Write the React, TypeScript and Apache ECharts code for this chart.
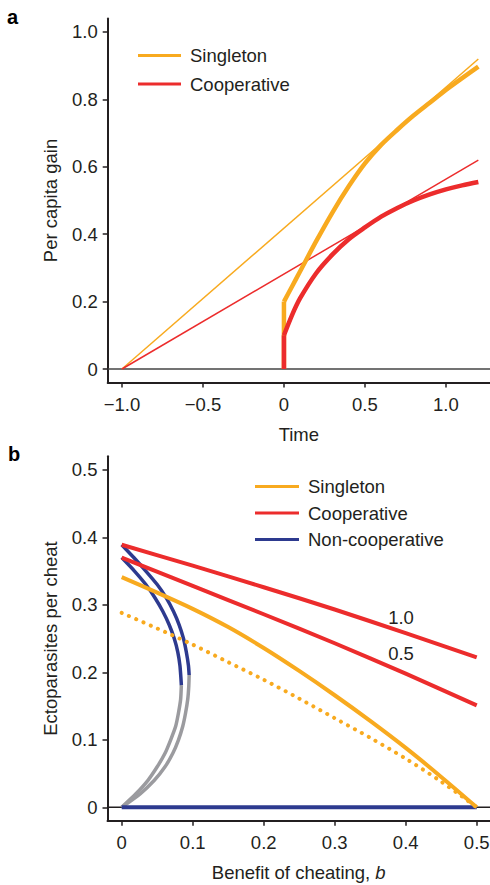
import React, { useEffect, useRef } from "react";
import * as echarts from "echarts";

// ---------- Panel a data ----------
const timeLineX = [-1, 1.2];
const singletonLineY = [0, 0.92];
const coopLineY = [0, 0.62];
const jumpX = [0, 0];
const singletonJumpY = [0, 0.2];
const coopJumpY = [0, 0.1];
const curveTime = [0, 0.05, 0.1, 0.2, 0.3, 0.4, 0.5, 0.6, 0.7, 0.8, 0.9, 1.0, 1.1, 1.2];
const singletonCurveY = [0.2, 0.245, 0.29, 0.38, 0.465, 0.542, 0.61, 0.665, 0.71, 0.752, 0.79, 0.828, 0.863, 0.897];
const coopCurveY = [0.1, 0.16, 0.21, 0.285, 0.34, 0.385, 0.42, 0.452, 0.478, 0.5, 0.518, 0.533, 0.545, 0.555];
const topXTicks = [-1, -0.5, 0, 0.5, 1.0];
const topXLabels = ["\u22121.0", "\u22120.5", "0", "0.5", "1.0"];
const topYTicks = [0, 0.2, 0.4, 0.6, 0.8, 1.0];
const topYLabels = ["0", "0.2", "0.4", "0.6", "0.8", "1.0"];

// ---------- Panel b data ----------
const benefit = [0, 0.05, 0.1, 0.15, 0.2, 0.25, 0.3, 0.35, 0.4, 0.45, 0.5];
const singletonB = [0.341, 0.318, 0.294, 0.267, 0.236, 0.202, 0.166, 0.128, 0.088, 0.045, 0];
const singletonDottedB = [0.288, 0.265, 0.241, 0.215, 0.189, 0.161, 0.132, 0.103, 0.072, 0.038, 0];
const benefitCoarse = [0, 0.1, 0.2, 0.3, 0.4, 0.5];
const coop10 = [0.389, 0.358, 0.326, 0.293, 0.258, 0.222];
const coop05 = [0.37, 0.328, 0.286, 0.243, 0.198, 0.151];
const outerBlueY = [0.389, 0.37, 0.35, 0.33, 0.31, 0.29, 0.27, 0.25, 0.23, 0.21, 0.196];
const outerBlueX = [0, 0.017, 0.034, 0.05, 0.063, 0.073, 0.081, 0.087, 0.091, 0.094, 0.095];
const outerGreyY = [0.196, 0.18, 0.16, 0.14, 0.12, 0.1, 0.08, 0.06, 0.04, 0.02, 0];
const outerGreyX = [0.095, 0.0945, 0.093, 0.09, 0.086, 0.08, 0.072, 0.061, 0.046, 0.026, 0];
const innerBlueY = [0.37, 0.35, 0.33, 0.31, 0.29, 0.27, 0.25, 0.23, 0.21, 0.19, 0.181];
const innerBlueX = [0, 0.018, 0.034, 0.047, 0.058, 0.067, 0.074, 0.079, 0.082, 0.0835, 0.084];
const innerGreyY = [0.181, 0.16, 0.14, 0.12, 0.1, 0.08, 0.06, 0.04, 0.02, 0];
const innerGreyX = [0.084, 0.083, 0.08, 0.076, 0.069, 0.061, 0.05, 0.037, 0.02, 0];
const blueZeroX = [0, 0.5];
const blueZeroY = [0, 0];
const botXTicks = [0, 0.1, 0.2, 0.3, 0.4, 0.5];
const botXLabels = ["0", "0.1", "0.2", "0.3", "0.4", "0.5"];
const botYTicks = [0, 0.1, 0.2, 0.3, 0.4, 0.5];
const botYLabels = ["0", "0.1", "0.2", "0.3", "0.4", "0.5"];

const ORANGE = "#F8AA1F";
const RED = "#EC2C2C";
const BLUE = "#2D3A8F";
const GREY = "#9B9B9F";
const INK = "#231F20";
const FONT = "'Liberation Sans', Arial, Helvetica, sans-serif";

const zip = (xs: number[], ys: number[]) => xs.map((x, i) => [x, ys[i]]);
const lookup = (ticks: number[], labels: string[]) => (v: number) => {
  const i = ticks.findIndex((t) => Math.abs(t - v) < 1e-9);
  return i >= 0 ? labels[i] : "";
};

const txt = { color: INK, fontSize: 18.5, fontFamily: FONT };

function valueAxis(
  grid: number,
  min: number,
  max: number,
  ticks: number[],
  labels: string[],
  name: any,
  nameGap: number,
  isY: boolean,
  rich?: any
) {
  return {
    type: "value",
    gridIndex: grid,
    min,
    max,
    name,
    nameLocation: "middle",
    nameGap,
    nameRotate: isY ? 90 : 0,
    nameTextStyle: { ...txt, rich },
    axisLine: { show: true, onZero: false, lineStyle: { color: INK, width: 2 } },
    axisTick: { show: true, customValues: ticks, length: 5, lineStyle: { color: INK, width: 1.5 } },
    axisLabel: { ...txt, customValues: ticks, margin: isY ? 10 : 12, formatter: lookup(ticks, labels) },
    splitLine: { show: false },
  };
}

function line(name: string, xi: number, data: number[][], color: string, width: number, extra: any = {}) {
  return {
    type: "line",
    name,
    xAxisIndex: xi,
    yAxisIndex: xi,
    data,
    showSymbol: false,
    symbol: "none",
    silent: true,
    itemStyle: { color },
    lineStyle: { color, width, cap: "butt", join: "round", ...(extra.lineStyle || {}) },
    smooth: extra.smooth ?? false,
    z: extra.z ?? 2,
  };
}

export default function App() {
  const ref = useRef<HTMLDivElement>(null);
  useEffect(() => {
    if (!ref.current) return;
    const chart = echarts.init(ref.current, undefined, { renderer: "svg" });
    const option: any = {
      animation: false,
      backgroundColor: "#fff",
      grid: [
        { left: 107.7, right: 0, top: 18.5, height: 364, outerBoundsMode: "none" },
        { left: 107.5, right: 0, top: 456.3, height: 364.5, outerBoundsMode: "none" },
      ],
      xAxis: [
        valueAxis(0, -1.088, 1.272, topXTicks, topXLabels, "Time", 42, false),
        valueAxis(1, -0.02, 0.5187, botXTicks, botXLabels, "Benefit of cheating, {i|b}", 42, false, {
          i: { ...txt, fontStyle: "italic" },
        }),
      ],
      yAxis: [
        valueAxis(0, -0.04, 1.04, topYTicks, topYLabels, "Per capita gain", 48, true),
        valueAxis(1, -0.02, 0.52, botYTicks, botYLabels, "Ectoparasites per cheat", 48, true),
      ],
      legend: [
        {
          data: ["Singleton", "Cooperative"],
          orient: "vertical",
          left: 133,
          top: 41,
          itemWidth: 43,
          itemHeight: 3,
          itemGap: 9.5,
          icon: "rect",
          selectedMode: false,
          textStyle: { ...txt, padding: [0, 0, 0, 4] },
        },
        {
          data: ["Singleton", "Cooperative", "Non-cooperative"],
          orient: "vertical",
          left: 250,
          top: 472,
          itemWidth: 44,
          itemHeight: 3,
          itemGap: 7.5,
          icon: "rect",
          selectedMode: false,
          textStyle: { ...txt, padding: [0, 0, 0, 4] },
        },
      ],
      graphic: [
        { type: "text", left: 7, top: 7, style: { text: "a", font: `bold 20px ${FONT}`, fill: "#000" } },
        { type: "text", left: 8, top: 444, style: { text: "b", font: `bold 20px ${FONT}`, fill: "#000" } },
        { type: "text", x: 401, y: 617, style: { text: "1.0", font: `18.5px ${FONT}`, fill: INK, align: "center", verticalAlign: "middle" } },
        { type: "text", x: 401, y: 653, style: { text: "0.5", font: `18.5px ${FONT}`, fill: INK, align: "center", verticalAlign: "middle" } },
      ],
      series: [
        // panel a
        line("zeroA", 0, [[-1.088, 0], [1.272, 0]], "#444", 1.5, { z: 1 }),
        line("Singleton", 0, zip(timeLineX, singletonLineY), ORANGE, 1.5),
        line("Cooperative", 0, zip(timeLineX, coopLineY), RED, 1.5),
        line("Singleton", 0, zip(jumpX, singletonJumpY), ORANGE, 4.5),
        line("Singleton", 0, zip(curveTime, singletonCurveY), ORANGE, 4.5, { smooth: 0.3 }),
        line("Cooperative", 0, zip(jumpX, coopJumpY), RED, 4.5),
        line("Cooperative", 0, zip(curveTime, coopCurveY), RED, 4.5, { smooth: 0.3 }),
        // panel b
        line("zeroB", 1, [[-0.02, 0], [0.5187, 0]], INK, 1.5, { z: 1 }),
        line("unstableOuter", 1, zip(outerGreyX, outerGreyY), GREY, 3.5, { smooth: 0.2 }),
        line("unstableInner", 1, zip(innerGreyX, innerGreyY), GREY, 3.5, { smooth: 0.2 }),
        line("Non-cooperative", 1, zip(outerBlueX, outerBlueY), BLUE, 3.5, { smooth: 0.2 }),
        line("Non-cooperative", 1, zip(innerBlueX, innerBlueY), BLUE, 3.5, { smooth: 0.2 }),
        line("Non-cooperative", 1, zip(blueZeroX, blueZeroY), BLUE, 4),
        line("Singleton", 1, zip(benefit, singletonB), ORANGE, 4, { smooth: 0.3 }),
        line("SingletonDotted", 1, zip(benefit, singletonDottedB), ORANGE, 4, {
          smooth: 0.3,
          lineStyle: { type: [0.1, 7.8], cap: "round" },
        }),
        line("Cooperative", 1, zip(benefitCoarse, coop10), RED, 4, { smooth: 0.3 }),
        line("Cooperative", 1, zip(benefitCoarse, coop05), RED, 4, { smooth: 0.3 }),
      ],
    };
    chart.setOption(option);
    return () => chart.dispose();
  }, []);
  return (
    <div
      ref={ref}
      style={{ position: "absolute", left: 0, top: 0, width: 490, height: 885, background: "#fff" }}
    />
  );
}
